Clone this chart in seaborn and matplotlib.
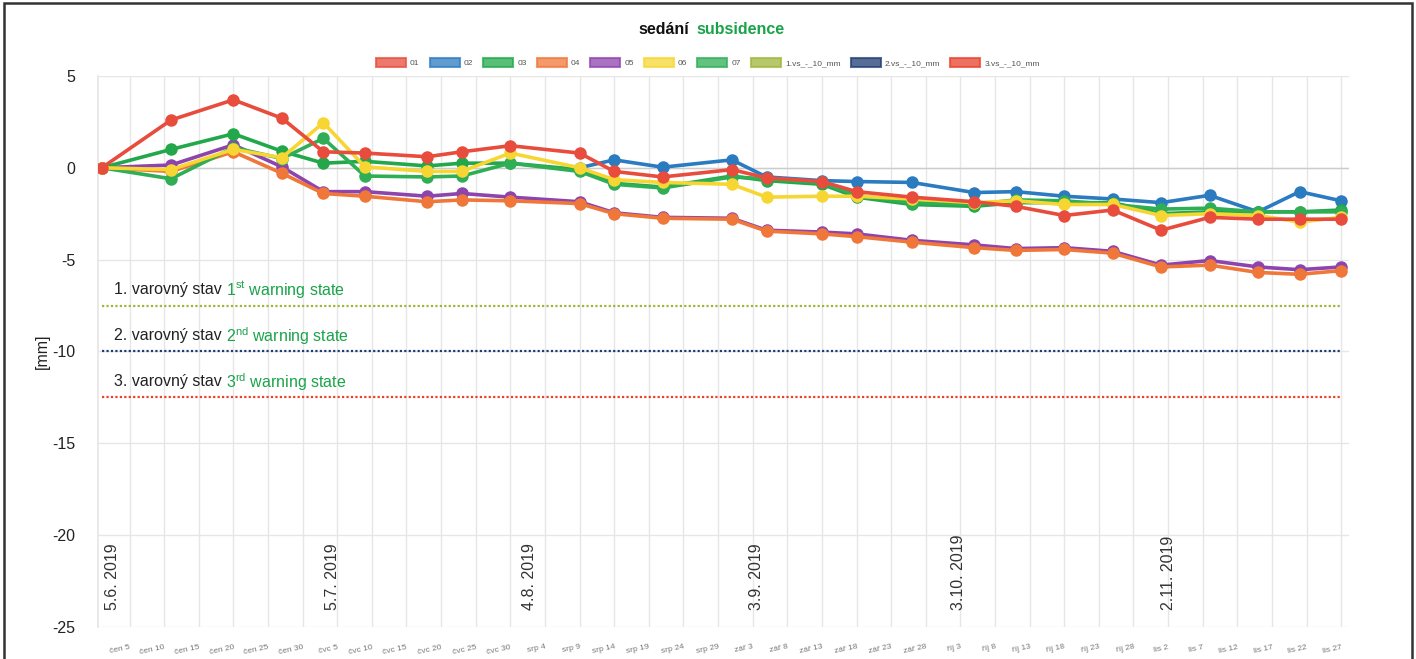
import matplotlib
matplotlib.use("Agg")
import numpy as np
import pandas as pd
import matplotlib.pyplot as plt
import seaborn as sns
from matplotlib.patches import Patch, Rectangle

# measurement days, counted from 5 June 2019 (čen 5 = day 0)
days = [-4, 6, 15, 22, 28, 34, 43, 48, 55, 65, 70, 77, 87, 92, 100, 105,
        113, 122, 128, 135, 142, 149, 156, 163, 169, 175]

s01 = [0, 2.6, 3.7, 2.7, 0.87, 0.8, 0.6, 0.87, 1.2, 0.8, -0.2, -0.5, -0.1, -0.55,
       -0.75, -1.3, -1.6, -1.85, -2.1, -2.6, -2.3, -3.4, -2.7, -2.8, -2.8, -2.8]
s02 = [np.nan] * 9 + [0, 0.43, 0.03, 0.43, -0.5, -0.7, -0.75, -0.8, -1.35, -1.3,
                      -1.55, -1.7, -1.9, -1.5, -2.4, -1.3, -1.8]
s03 = [0, 1.0, 1.85, 0.9, 0.25, 0.35, 0.1, 0.25, 0.25, -0.1, -0.85, -1.05, -0.45, -0.7,
       -0.9, -1.6, -2.0, -2.1, -1.9, -1.9, -1.9, -2.5, -2.4, -2.4, -2.4, -2.3]
s04 = [0, -0.2, 0.87, -0.3, -1.4, -1.55, -1.85, -1.75, -1.8, -1.95, -2.5, -2.75, -2.8,
       -3.45, -3.6, -3.75, -4.05, -4.35, -4.5, -4.45, -4.65, -5.4, -5.3, -5.7, -5.8, -5.6]
s05 = [0, 0.15, 1.25, 0.05, -1.3, -1.3, -1.55, -1.4, -1.6, -1.85, -2.45, -2.7, -2.75,
       -3.4, -3.5, -3.6, -3.95, -4.2, -4.4, -4.35, -4.55, -5.3, -5.05, -5.4, -5.55, -5.4]
s06 = [0, -0.1, 1.0, 0.55, 2.45, 0.05, -0.2, -0.2, 0.8, 0.0, -0.65, -0.8, -0.9, -1.6,
       -1.55, -1.55, -1.7, -1.9, -1.8, -2.0, -2.0, -2.6, -2.5, -2.6, -2.95, -2.7]
s07 = [0, -0.6, 1.1, 0.5, 1.6, -0.45, -0.5, -0.45, 0.25, -0.2, -0.9, -1.1, -0.5, -0.6,
       -0.8, -1.5, -1.9, -2.0, -1.75, -1.8, -2.0, -2.25, -2.2, -2.4, -2.4, -2.4]

series_names = ["01", "02", "03", "04", "05", "06", "07"]
series_colors = ["#e84c3d", "#2b7bc0", "#22a84a", "#f0773a", "#8e44ad", "#f7d633", "#2fae55"]
# drawing order (bottom to top), as in the source chart
draw_order = ["05", "04", "02", "03", "07", "06", "01"]

warn_names = ["1.vs_-_10_mm", "2.vs_-_10_mm", "3.vs_-_10_mm"]
warn_levels = [-7.5, -10, -12.5]
warn_colors = ["#9fb53a", "#1f3c73", "#e8412c"]
warn_cz = ["1. varovný stav", "2. varovný stav", "3. varovný stav"]
warn_en = ["1$^{\\mathrm{st}}$ warning state", "2$^{\\mathrm{nd}}$ warning state",
           "3$^{\\mathrm{rd}}$ warning state"]

tick_labels = ["čen 5", "čen 10", "čen 15", "čen 20", "čen 25", "čen 30",
               "čvc 5", "čvc 10", "čvc 15", "čvc 20", "čvc 25", "čvc 30",
               "srp 4", "srp 9", "srp 14", "srp 19", "srp 24", "srp 29",
               "zář 3", "zář 8", "zář 13", "zář 18", "zář 23", "zář 28",
               "říj 3", "říj 8", "říj 13", "říj 18", "říj 23", "říj 28",
               "lis 2", "lis 7", "lis 12", "lis 17", "lis 22", "lis 27"]

date_marks = ["5.6. 2019", "5.7. 2019", "4.8. 2019", "3.9. 2019", "3.10. 2019", "2.11. 2019"]
date_mark_days = [-2.5, 29.3, 57.7, 90.5, 119.8, 150.1]

GREEN = "#1aa34a"

sns.set_theme(style="whitegrid")
plt.rcParams["font.family"] = ["Liberation Sans", "DejaVu Sans"]
plt.rcParams["mathtext.fontset"] = "custom"
plt.rcParams["mathtext.rm"] = "Liberation Sans"
plt.rcParams["axes.unicode_minus"] = False

fig = plt.figure(figsize=(14.16, 6.59), dpi=100)
ax = fig.add_axes([0.069, 0.0486, 0.884, 0.8362])

df = pd.DataFrame({"day": days, **dict(zip(series_names, [s01, s02, s03, s04, s05, s06, s07]))})
colors = dict(zip(series_names, series_colors))

# warning thresholds, drawn across the measured period
for lvl, c in zip(warn_levels, warn_colors):
    ax.hlines(lvl, days[0], days[-1], colors=c, linestyles=(0, (1, 1)), linewidth=1.6, zorder=2)

for name in draw_order:
    sns.lineplot(data=df, x="day", y=name, color=colors[name], marker="o", markersize=9,
                 markeredgewidth=0, linewidth=2.6, ax=ax, zorder=3)

ax.set_xlim(-4.6, 176.2)
ax.set_ylim(-25, 5)
ax.set_xticks(range(0, 180, 5))
ax.set_xticklabels(tick_labels, rotation=12, ha="right", rotation_mode="anchor",
                   fontsize=6, color="#777777")
ax.set_yticks([5, 0, -5, -10, -15, -20, -25])
ax.tick_params(axis="y", labelsize=11.5, colors="#222222", pad=10)
ax.tick_params(axis="x", pad=6)
ax.set_xlabel("")
ax.set_ylabel("[mm]", fontsize=11.5, color="#222222", labelpad=2)
ax.grid(True, color="#e6e6e6", linewidth=1)
ax.axhline(0, color="#cccccc", linewidth=1, zorder=1)
for side in ["top", "right", "bottom"]:
    ax.spines[side].set_visible(False)
ax.spines["left"].set_color("#e6e6e6")
ax.set_facecolor("white")

# warning state labels
for lvl, cz, en in zip(warn_levels, warn_cz, warn_en):
    ax.text(-2.3, lvl + 0.85, cz, fontsize=11.5, color="#222222", va="center", ha="left")
    ax.text(14.0, lvl + 0.85, en, fontsize=11.5, color=GREEN, va="center", ha="left")

# vertical month marks
for d, t in zip(date_mark_days, date_marks):
    ax.text(d, -24.1, t, rotation=90, fontsize=11.5, color="#333333", ha="center", va="bottom")

# title
fig.text(0.487, 0.955, "sedání", fontsize=11.5, fontweight="bold", color="#111111",
         ha="right", va="center")
fig.text(0.492, 0.955, "subsidence", fontsize=11.5, fontweight="bold", color=GREEN,
         ha="left", va="center")

handles = [Patch(facecolor=c, edgecolor=c, alpha=0.75, linewidth=1.5)
           for c in series_colors + warn_colors]
fig.legend(handles, series_names + warn_names, loc="center", bbox_to_anchor=(0.5, 0.905),
           ncol=10, frameon=False, fontsize=6, handlelength=3.6, handleheight=1.3,
           handletextpad=0.5, columnspacing=1.2, labelcolor="#555555")

# outer frame of the picture
fig.patches.append(Rectangle((0.003, -0.05), 0.994, 1.045, transform=fig.transFigure,
                             fill=False, edgecolor="#333333", linewidth=1.8))

fig.savefig("out.png", dpi=100)
